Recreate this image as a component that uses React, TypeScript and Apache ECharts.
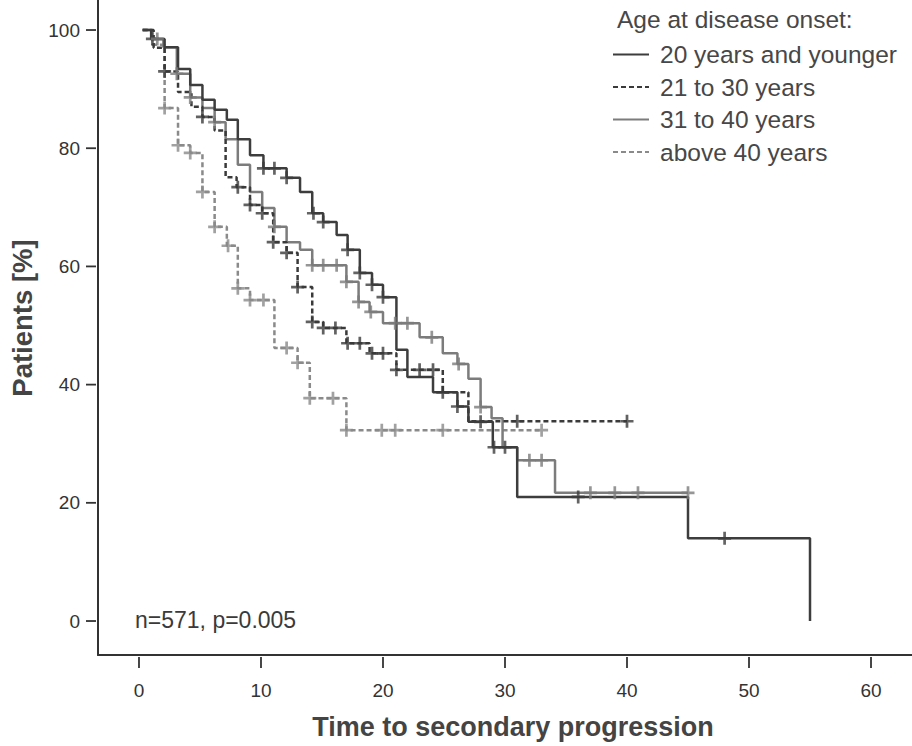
import React, { useEffect, useRef } from "react";
import * as echarts from "echarts";

const FONT = "'Liberation Sans', Arial, sans-serif";

const seriesNames = [
  "20 years and younger",
  "21 to 30 years",
  "31 to 40 years",
  "above 40 years",
];

// Kaplan-Meier steps: [time, percent after the step]
const stepsA: [number, number][] = [
  [0.3, 100], [1, 98.5], [2.1, 97.1], [3.2, 93.4], [4.2, 90.7], [5.2, 88.2], [6.2, 86.5],
  [7.2, 84.8], [8.1, 81.5], [9.1, 78.8], [10.2, 76.6], [12.1, 75], [13.2, 72.6],
  [14.2, 69], [15.1, 67.5], [16.2, 65.3], [17.1, 62.8], [18.1, 58.9], [19.1, 56.9],
  [20, 54.8], [21.1, 45.9], [22, 41.3], [24.1, 38.7], [26.1, 36.3], [27, 33.7],
  [29, 29.4], [31, 21], [45, 14], [55, 0],
];
const endA = 55;
const censA = [1.1, 10.2, 11.1, 12.1, 14.3, 15.1, 17.1, 18.1, 19.1, 20, 26.1, 28, 29.1, 30, 36, 48];

const stepsB: [number, number][] = [
  [0.3, 100], [1.2, 97], [2.1, 93], [3.2, 89.5], [4.3, 87], [5.2, 85.3], [6.2, 83],
  [7.1, 75.1], [8, 73.4], [9.1, 70.4], [10.1, 69], [11, 64.1], [12.1, 62.3], [13, 56.5],
  [14.2, 50.6], [15.1, 49.6], [17, 47], [18.9, 45.3], [21.1, 42.5], [24.9, 38.7],
  [27, 33.8],
];
const endB = 40;
const censB = [2.1, 5.2, 8.1, 9.1, 10.1, 11, 12.1, 13, 14.2, 15.1, 16.1, 17.1, 18.1, 19.1, 20, 21.1, 23, 24.1, 24.9, 31, 40];

const stepsC: [number, number][] = [
  [0.3, 100], [1, 98.5], [2, 97.1], [3.1, 92.6], [4.2, 88.6], [5.2, 86.8], [6.2, 84.4],
  [7.1, 81.5], [8.1, 77.2], [9.1, 72.6], [10.1, 69.9], [11.1, 66.7], [12.1, 64.1],
  [13.2, 62.8], [14.2, 60.2], [17, 57.4], [18, 54], [18.9, 52.3], [20, 50.4], [23, 48],
  [24.9, 45.3], [26.1, 43.5], [27, 41], [28, 36.2], [28.9, 34.3], [29.8, 29.4],
  [31, 27.2], [34.1, 21.7],
];
const endC = 45;
const censC = [1.5, 3.1, 4.2, 6.2, 11.1, 14.2, 15.1, 16.2, 17, 18, 19, 21, 22, 24, 26.2, 28, 32, 33, 37, 39, 40.9, 45];

const stepsD: [number, number][] = [
  [0.3, 100], [1.1, 97.5], [2.1, 86.8], [3.2, 80.5], [4.2, 79.2], [5.2, 72.6], [6.2, 66.7],
  [7.2, 63.5], [8.1, 56.3], [9.1, 54.3], [11.1, 46.2], [13, 43.7], [14, 37.7], [17, 32.3],
];
const endD = 33;
const censD = [2.1, 3.2, 4.2, 5.2, 6.2, 7.3, 8.1, 9.1, 10.2, 12.1, 13, 14, 15.9, 17, 19.9, 21, 24.9, 33];

const xTicks = [0, 10, 20, 30, 40, 50, 60];
const yTicks = [0, 20, 40, 60, 80, 100];

const annotation = "n=571, p=0.005";
const xTitle = "Time to secondary progression";
const yTitle = "Patients [%]";
const legendTitle = "Age at disease onset:";

const X_MIN = -3.36;
const X_MAX = 63.36;
const Y_MIN = -5.75;
const Y_MAX = 105.08;

function valueAt(steps: [number, number][], t: number): number {
  let v = steps[0][1];
  for (const [st, sv] of steps) {
    if (st <= t + 1e-9) v = sv;
  }
  return v;
}

function lineData(steps: [number, number][], end: number): [number, number][] {
  const d = steps.map((p) => [p[0], p[1]] as [number, number]);
  const last = d[d.length - 1];
  if (end > last[0]) d.push([end, last[1]]);
  return d;
}

const PLUS = "path://M4.75,0h2.5v4.75h4.75v2.5h-4.75v4.75h-2.5v-4.75h-4.75v-2.5h4.75z";
const AXIS_COLOR = "#333";

export default function App() {
  const ref = useRef<HTMLDivElement>(null);
  useEffect(() => {
    if (!ref.current) return;
    const chart = echarts.init(ref.current, undefined, { renderer: "svg" });
    const defs = [
      { name: seriesNames[0], steps: stepsA, end: endA, cens: censA, color: "#3d3d3d", dash: "solid" as any },
      { name: seriesNames[1], steps: stepsB, end: endB, cens: censB, color: "#3a3a3a", dash: [5, 3] as any },
      { name: seriesNames[2], steps: stepsC, end: endC, cens: censC, color: "#7c7c7c", dash: "solid" as any },
      { name: seriesNames[3], steps: stepsD, end: endD, cens: censD, color: "#8a8a8a", dash: [5, 3] as any },
    ];
    const series: any[] = [];
    defs.forEach((d, i) => {
      series.push({
        name: d.name,
        type: "line",
        step: "end",
        data: lineData(d.steps, d.end),
        symbol: "none",
        showSymbol: false,
        lineStyle: { color: d.color, width: 2.5, type: d.dash },
        itemStyle: { color: d.color },
        z: 4 - i,
      });
      series.push({
        name: d.name + " censored",
        type: "scatter",
        data: d.cens.map((t) => [t, valueAt(d.steps, t)]),
        symbol: PLUS,
        symbolSize: 13,
        itemStyle: { color: d.color },
        z: 5,
      });
    });
    // axis tick marks drawn through the axis scales
    series.push({
      name: "x ticks",
      type: "custom",
      silent: true,
      clip: false,
      data: xTicks.map((t) => [t]),
      renderItem: (_p: any, api: any) => {
        const pt = api.coord([api.value(0), Y_MIN]);
        return {
          type: "line",
          shape: { x1: pt[0], y1: pt[1] + 2, x2: pt[0], y2: pt[1] + 13 },
          style: { stroke: AXIS_COLOR, lineWidth: 1.8 },
        };
      },
    });
    series.push({
      name: "y ticks",
      type: "custom",
      silent: true,
      clip: false,
      data: yTicks.map((v) => [X_MIN, v]),
      renderItem: (_p: any, api: any) => {
        const pt = api.coord([X_MIN, api.value(1)]);
        return {
          type: "line",
          shape: { x1: pt[0] - 12, y1: pt[1], x2: pt[0] - 2, y2: pt[1] },
          style: { stroke: AXIS_COLOR, lineWidth: 1.8 },
        };
      },
    });
    chart.setOption({
      animation: false,
      backgroundColor: "#ffffff",
      textStyle: { fontFamily: FONT },
      grid: { left: 98, right: 0, top: 0, bottom: 91, containLabel: false },
      title: {
        text: legendTitle,
        left: 617,
        top: 7,
        padding: 0,
        textStyle: { fontSize: 24.5, fontWeight: "normal", color: "#474747", fontFamily: FONT },
      },
      legend: {
        data: seriesNames,
        orient: "vertical",
        left: 612,
        top: 42,
        padding: 0,
        itemWidth: 36,
        itemHeight: 14,
        itemGap: 7.5,
        selectedMode: false,
        itemStyle: { opacity: 0 },
        textStyle: { fontSize: 24.5, color: "#474747", fontFamily: FONT, padding: [0, 0, 0, 6] },
      },
      xAxis: {
        type: "value",
        min: X_MIN,
        max: X_MAX,
        axisLine: { show: true, onZero: false, lineStyle: { color: AXIS_COLOR, width: 2 } },
        axisTick: { show: false },
        axisLabel: { customValues: xTicks, margin: 26, fontSize: 19, color: "#333", fontFamily: FONT },
        splitLine: { show: false },
      },
      yAxis: {
        type: "value",
        min: Y_MIN,
        max: Y_MAX,
        axisLine: { show: true, onZero: false, lineStyle: { color: AXIS_COLOR, width: 2 } },
        axisTick: { show: false },
        axisLabel: { customValues: yTicks, margin: 18, fontSize: 19, color: "#333", fontFamily: FONT },
        splitLine: { show: false },
      },
      graphic: [
        {
          type: "text",
          left: 135,
          top: 608,
          style: { text: annotation, fontSize: 23, fill: "#3a3a3a", fontFamily: FONT },
        },
        {
          type: "text",
          x: 513,
          y: 727,
          style: {
            text: xTitle,
            fontSize: 27,
            fontWeight: "bold",
            fill: "#444",
            fontFamily: FONT,
            align: "center",
            verticalAlign: "middle",
          },
        },
        {
          type: "text",
          x: 22,
          y: 318,
          rotation: Math.PI / 2,
          style: {
            text: yTitle,
            fontSize: 27.5,
            fontWeight: "bold",
            fill: "#444",
            fontFamily: FONT,
            align: "center",
            verticalAlign: "middle",
          },
        },
      ],
      series,
    });
    return () => chart.dispose();
  }, []);
  return (
    <div
      ref={ref}
      style={{ position: "absolute", left: 0, top: 0, width: 912, height: 746, background: "#fff" }}
    />
  );
}
